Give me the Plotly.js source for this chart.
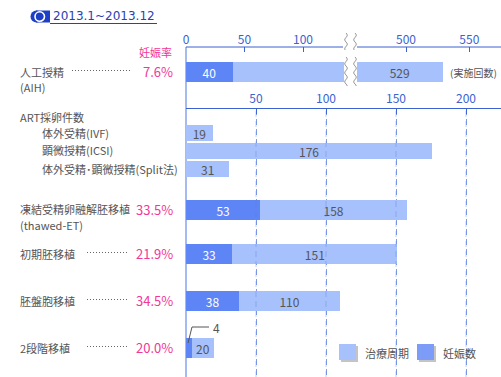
<!DOCTYPE html>
<html><head><meta charset="utf-8">
<script src="https://cdn.plot.ly/plotly-3.0.1.min.js"></script>
<style>html,body{margin:0;padding:0;background:#fff}#chart{width:501px;height:377px}</style>
</head><body><div id="chart"></div>
<script>
// ---------- data ----------
const period = '2013.1~2013.12';
const labelMain = ['人工授精', '体外受精(IVF)', '顕微授精(ICSI)', '体外受精･顕微授精(Split法)', '凍結受精卵融解胚移植', '初期胚移植', '胚盤胞移植', '2段階移植'];
const labelSub = ['(AIH)', '', '', '', '(thawed-ET)', '', '', ''];
const cycles = [529, 19, 176, 31, 158, 151, 110, 20];          // 治療周期
const pregnancies = [40, 0, 0, 0, 53, 33, 38, 4];              // 妊娠数
const groupLabel = 'ART採卵件数';
const aihTicks = [0, 50, 100, 500, 550];
const mainTicks = [50, 100, 150, 200];
const legendNames = ['治療周期', '妊娠数'];

// ---------- layout helpers ----------
const W = 501, H = 377, L = 186;
const px = x => (x - L) / (W - L);
const py = y => (H - y) / H;
const rowY = [72, 133, 151, 169, 210, 254, 301, 348];
const rowH = [20, 16, 16, 16, 20, 20, 20, 20];
const mainOff = [-0.5, -0.5, -0.5, -0.5, -1, -0.5, -0.5, -0.5];
const subGap = [15, 0, 0, 0, 15, 0, 0, 0];
const indent = [false, true, true, true, false, false, false, false];
const leader = [true, false, false, false, false, true, true, true];
const FONT = 'Noto Sans CJK JP, Noto Sans, sans-serif';
const LIGHT = '#a6c1fb', DARK = '#5d85f6', AXIS = '#3a63d0', GRID = '#7d9be6';
const PINK = '#f2369a', TXT = '#555';

// broken axis for AIH row
const breakLo = 135, breakHi = 461;
const tAIH = v => v <= breakLo ? v * 1.17 : 220 + (v - 500) * 1.266;

const lowerIdx = [1, 2, 3, 4, 5, 6, 7];
const rates = cycles.map((c, i) => pregnancies[i] ? (pregnancies[i] / c * 100).toFixed(1) + '%' : '');

const barText = (color) => ({textposition: 'inside', insidetextanchor: 'middle', constraintext: 'none', textangle: 0,
  textfont: {color, size: 12, family: FONT}, hoverinfo: 'skip', showlegend: false});

const traces = [];
// AIH row (upper, broken axis)
traces.push(Object.assign({type: 'bar', orientation: 'h', xaxis: 'x2', yaxis: 'y2', y: [rowY[0]], width: [rowH[0]],
  base: [tAIH(pregnancies[0])], x: [tAIH(breakLo) - tAIH(pregnancies[0])], marker: {color: LIGHT}}, barText(TXT)));
traces.push(Object.assign({type: 'bar', orientation: 'h', xaxis: 'x2', yaxis: 'y2', y: [rowY[0]], width: [rowH[0]],
  base: [tAIH(breakHi)], x: [tAIH(cycles[0]) - tAIH(breakHi)], marker: {color: LIGHT},
  text: [String(cycles[0])]}, barText(TXT)));
traces.push(Object.assign({type: 'bar', orientation: 'h', xaxis: 'x2', yaxis: 'y2', y: [rowY[0]], width: [rowH[0]],
  base: [0], x: [tAIH(pregnancies[0])], marker: {color: DARK},
  text: [String(pregnancies[0])]}, barText('#fff')));
// lower rows
traces.push(Object.assign({type: 'bar', orientation: 'h', xaxis: 'x', yaxis: 'y',
  y: lowerIdx.map(i => rowY[i]), width: lowerIdx.map(i => rowH[i]),
  base: lowerIdx.map(i => pregnancies[i]), x: lowerIdx.map(i => cycles[i] - pregnancies[i]),
  marker: {color: LIGHT}, text: lowerIdx.map(i => String(cycles[i]))}, barText(TXT)));
traces.push(Object.assign({type: 'bar', orientation: 'h', xaxis: 'x', yaxis: 'y',
  y: lowerIdx.map(i => rowY[i]), width: lowerIdx.map(i => rowH[i]),
  base: lowerIdx.map(() => 0), x: lowerIdx.map(i => pregnancies[i]),
  marker: {color: DARK}, text: lowerIdx.map(i => pregnancies[i] >= 10 ? String(pregnancies[i]) : '')}, barText('#fff')));

// ---------- annotations ----------
const ann = [];
const A = (o) => ann.push(Object.assign({xref: 'paper', yref: 'paper', showarrow: false, borderpad: 0, font: {family: FONT, size: 11, color: TXT}}, o));
A({x: px(52), y: py(16.5), xanchor: 'left', yanchor: 'middle', text: period, font: {family: 'DejaVu Sans, sans-serif', size: 12, color: '#2642b8'}});
A({x: px(173), y: py(52), xanchor: 'right', yanchor: 'middle', text: '妊娠率', font: {family: FONT, size: 11, color: PINK}});
A({x: px(19), y: py(117), xanchor: 'left', yanchor: 'middle', text: groupLabel});
labelMain.forEach((t, i) => {
  A({x: px(indent[i] ? 41 : 19), y: py(rowY[i] + mainOff[i]), xanchor: 'left', yanchor: 'middle', text: t});
  if (labelSub[i]) A({x: px(19), y: py(rowY[i] + subGap[i]), xanchor: 'left', yanchor: 'middle', text: labelSub[i]});
  if (rates[i]) A({x: px(174), y: py(rowY[i] - 0.5), xanchor: 'right', yanchor: 'middle', text: rates[i], font: {family: FONT, size: 13, color: PINK}});
});
A({x: px(449), y: py(72), xanchor: 'left', yanchor: 'middle', text: '(実施回数)', font: {family: FONT, size: 10, color: TXT}});
A({x: px(212), y: py(327), xanchor: 'left', yanchor: 'middle', text: String(pregnancies[7]), font: {family: FONT, size: 12, color: TXT}});
A({x: px(364), y: py(353), xanchor: 'left', yanchor: 'middle', text: legendNames[0]});
A({x: px(442), y: py(353), xanchor: 'left', yanchor: 'middle', text: legendNames[1]});

// ---------- shapes ----------
const shapes = [];
const line = (x0, y0, x1, y1, color, width, dash, layer) => shapes.push({type: 'line', xref: 'paper', yref: 'paper',
  x0: px(x0), y0: py(y0), x1: px(x1), y1: py(y1), line: {color, width, dash: dash || 'solid'}, layer: layer || 'above'});
// header pill
shapes.push({type: 'circle', xref: 'paper', yref: 'paper', x0: px(30.5), x1: px(42.5), y0: py(22.5), y1: py(10.5), fillcolor: '#1d3fc6', line: {width: 0}});
shapes.push({type: 'rect', xref: 'paper', yref: 'paper', x0: px(36), x1: px(50), y0: py(22.5), y1: py(10.5), fillcolor: '#1d3fc6', line: {width: 0}});
shapes.push({type: 'circle', xref: 'paper', yref: 'paper', x0: px(35), x1: px(44.5), y0: py(21.3), y1: py(11.8), fillcolor: 'rgba(0,0,0,0)', line: {color: '#fff', width: 1.6}});
line(50, 23.5, 157, 23.5, '#2642b8', 1);
// left vertical axis line
line(186, 47, 186, 377, '#a3bbf2', 2, 'solid', 'below');
// upper axis line (broken)
line(186, 47, 343, 47, AXIS, 1);
line(357, 47, 501, 47, AXIS, 1);
// wavy break marks
function wave(xc, y0, y1) {
  let d = '';
  for (let y = y0; y <= y1; y += 1) {
    const x = xc + 1.3 * Math.sin((y - y0) / 9 * 2 * Math.PI);
    d += (d ? 'L' : 'M') + px(x).toFixed(5) + ',' + py(y).toFixed(5);
  }
  shapes.push({type: 'path', xref: 'paper', yref: 'paper', path: d, line: {color: '#9a9a9a', width: 1}, layer: 'above'});
}
[346, 355].forEach(xc => { wave(xc, 33, 50); wave(xc, 57, 86); });
// dotted leaders
labelMain.forEach((t, i) => {
  if (!leader[i]) return;
  const x0 = i === 0 ? 72 : 87;
  line(x0, rowY[i] - 1.5, i === 0 ? 131 : 128, rowY[i] - 1.5, '#666', 1, '1px,2px');
});
// grid overlay visible through bars
mainTicks.forEach(v => shapes.push({type: 'line', xref: 'x', yref: 'paper', x0: v, x1: v, y0: 0, y1: py(109),
  line: {color: 'rgba(90,120,215,0.35)', width: 1, dash: '6px,4px'}, layer: 'above'}));
// leader for small value
shapes.push({type: 'path', xref: 'paper', yref: 'paper',
  path: `M${px(188)},${py(343)}L${px(192)},${py(327)}L${px(209)},${py(327)}`, line: {color: TXT, width: 1}, layer: 'above'});
// legend swatches
[[339, LIGHT], [417, '#7c9cf8']].forEach(([x, c]) => {
  shapes.push({type: 'rect', xref: 'paper', yref: 'paper', x0: px(x + 2), x1: px(x + 19), y0: py(362), y1: py(346), fillcolor: '#c4c4c4', line: {width: 0}});
  shapes.push({type: 'rect', xref: 'paper', yref: 'paper', x0: px(x), x1: px(x + 17), y0: py(360), y1: py(344), fillcolor: c, line: {width: 0}});
});

const layout = {
  width: W, height: H, margin: {l: L, r: 0, t: 0, b: 0, pad: 0},
  paper_bgcolor: '#fff', plot_bgcolor: 'rgba(0,0,0,0)',
  barmode: 'overlay', bargap: 0, showlegend: false,
  font: {family: FONT, size: 11, color: TXT},
  xaxis: {domain: [0, 1], anchor: 'y', side: 'top', range: [0, (W - L) / 1.4], tickmode: 'array', tickvals: mainTicks,
    ticks: 'inside', ticklen: 5, tickcolor: AXIS, tickwidth: 1, showline: true, linecolor: AXIS, linewidth: 1,
    showgrid: true, gridcolor: GRID, griddash: '6px,4px', gridwidth: 1, zeroline: false,
    tickfont: {family: FONT, size: 12, color: AXIS}, fixedrange: true},
  yaxis: {domain: [0, py(109)], anchor: 'x', range: [H, 109], showticklabels: false, showgrid: false, zeroline: false, showline: false, ticks: '', fixedrange: true},
  xaxis2: {domain: [0, 1], anchor: 'y2', side: 'top', range: [0, W - L], tickmode: 'array',
    tickvals: aihTicks.map(tAIH), ticktext: aihTicks.map(String),
    ticks: 'inside', ticklen: 5, tickcolor: AXIS, tickwidth: 1, showline: false, showgrid: false, zeroline: false,
    tickfont: {family: FONT, size: 12, color: AXIS}, fixedrange: true},
  yaxis2: {domain: [py(97), py(47)], anchor: 'x2', range: [97, 47], showticklabels: false, showgrid: false, zeroline: false, showline: false, ticks: '', fixedrange: true},
  annotations: ann, shapes: shapes
};
Plotly.newPlot('chart', traces, layout, {displayModeBar: false, staticPlot: true});
</script></body></html>
